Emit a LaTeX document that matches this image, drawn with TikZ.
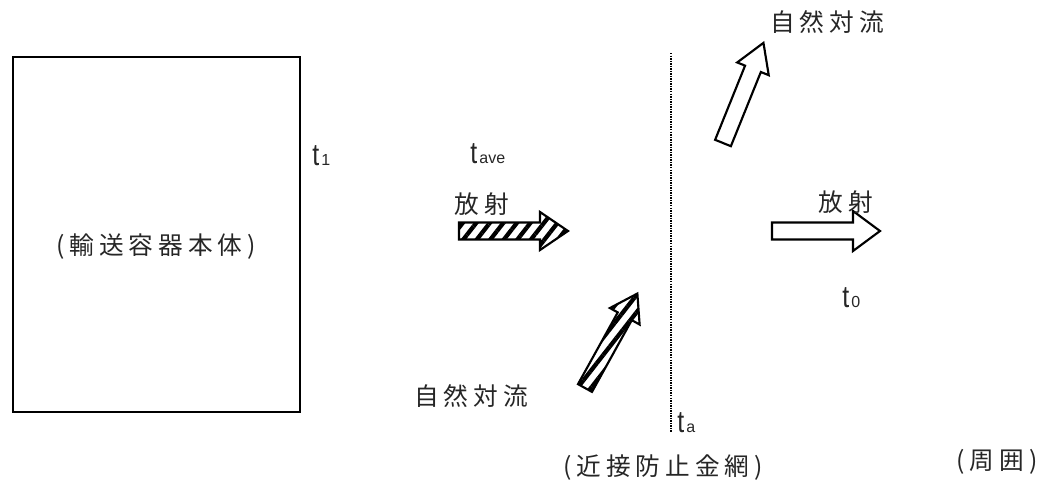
\documentclass[tikz,border=0pt]{standalone}
\usepackage{fontspec}
\usetikzlibrary{patterns.meta}
\newfontfamily\jp{Noto Sans CJK JP}[LetterSpace=20]
\newfontfamily\lat{Liberation Sans}
\definecolor{txt}{HTML}{262626}
\newcommand\blkarrow[7]{%
  \draw[#1,shift={(#2)},rotate=#3] (0,-#5) -- ({#4-#7},-#5) -- ({#4-#7},-#6) -- (#4,0)
    -- ({#4-#7},#6) -- ({#4-#7},#5) -- (0,#5) -- cycle;}
\newcommand\tlab[1]{{\fontsize{22}{22}\selectfont\lat\scalebox{0.85}[1.05]{t}}\,{\fontsize{12}{12}\selectfont\lat #1}}
\tikzset{
  jtext/.style={text=txt,font=\jp\fontsize{18.5}{18.5}\selectfont,inner sep=0pt},
  ttext/.style={text=txt,inner sep=0pt,anchor=base west},
  openarrow/.style={draw=black,line width=1.6pt,fill=white,line join=miter},
  hatcharrow/.style={draw=black,line width=1.6pt,line join=miter,
    pattern={Lines[angle=52,distance=8pt,line width=3.2pt]}},
  body/.style={draw=black,line width=1.7pt},
  mesh/.style={draw=black,line width=1.4pt,dash pattern=on 1.1pt off 0.8pt}
}
\begin{document}
\begin{tikzpicture}[x=0.75pt,y=-0.75pt]
\useasboundingbox (0,0) rectangle (1046,486);
% body
\draw[body] (13,57) rectangle (300,412);
\node[jtext] (bodylbl) at (156,247) {(輸送容器本体)};
\node[ttext] (t1) at (312,165) {\tlab{1}};
\node[ttext] (tave) at (470,163) {\tlab{ave}};
% hatched radiation
\node[jtext] (rad1) at (482,204) {放射};
\blkarrow{hatcharrow}{459,231}{0}{109}{8.5}{19}{28}
% hatched convection
\blkarrow{hatcharrow}{585,388}{61}{108}{8}{17}{26}
\node[jtext] (conv1) at (471,396) {自然対流};
% mesh
\coordinate (mtop) at (671,53);
\coordinate (mbot) at (671,432);
\draw[mesh] (mtop) -- (mbot);
\node[ttext] (ta) at (677,432) {\tlab{a}};
\node[jtext] (meshlbl) at (663,468) {(近接防止金網)};
% open convection
\blkarrow{openarrow}{723,143}{68}{108}{8.5}{17}{28}
\node[jtext] (conv2) at (827,22) {自然対流};
% open radiation
\blkarrow{openarrow}{772,231}{0}{108}{8.5}{20}{27}
\node[jtext] (rad2) at (846,202) {放射};
\node[ttext] (t0) at (842,307) {\tlab{0}};
\node[jtext] (amb) at (997,462) {(周囲)};
\end{tikzpicture}
\end{document}
